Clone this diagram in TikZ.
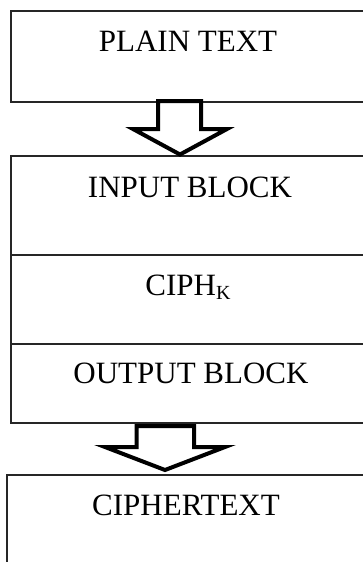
\documentclass[tikz,border=0pt]{standalone}
\usepackage{fontspec}
\setmainfont{Liberation Serif}
\begin{document}
\begin{tikzpicture}[x=1pt,y=-1pt,
  blk/.style={draw=black!85,line width=1.4pt,rectangle,inner sep=0pt},
  lbl/.style={font=\fontsize{31}{36}\selectfont,anchor=base,inner sep=0pt},
  bigarrow/.style={draw=black,fill=white,line width=4pt,line join=miter}]
\useasboundingbox (0,0) rectangle (363,562);
\clip (0,0) rectangle (363,562);
% boxes (right sides run off the picture)
\node[blk,minimum width=378pt,minimum height=91pt] (plainbox) at (200,56.5) {};
\node[blk,minimum width=378pt,minimum height=99pt] (inbox) at (200,205.5) {};
\node[blk,minimum width=378pt,minimum height=89pt] (ciphbox) at (200,299.5) {};
\node[blk,minimum width=378pt,minimum height=79pt] (outbox) at (200,383.5) {};
\node[blk,minimum width=382pt,minimum height=125pt] (ctbox) at (198,537.5) {};
% labels
\node[lbl] (plaint) at (188,51) {PLAIN TEXT};
\node[lbl] (inpt) at (190,197) {INPUT BLOCK};
\node[lbl] (ciph) at (188,295) {CIPH\raisebox{-4pt}{\fontsize{20}{20}\selectfont K}};
\node[lbl] (outpt) at (191,383) {OUTPUT BLOCK};
\node[lbl] (ctt) at (186,515) {CIPHERTEXT};
% block arrows
\draw[bigarrow] (158,101) -- (201,101) -- (201,129) -- (227,129) -- (180,154.5)
  -- (133,129) -- (158,129) -- cycle;
\draw[bigarrow] (136.5,426) -- (194,426) -- (194,447) -- (225,447) -- (165,470)
  -- (105,447) -- (136.5,447) -- cycle;
\end{tikzpicture}
\end{document}
